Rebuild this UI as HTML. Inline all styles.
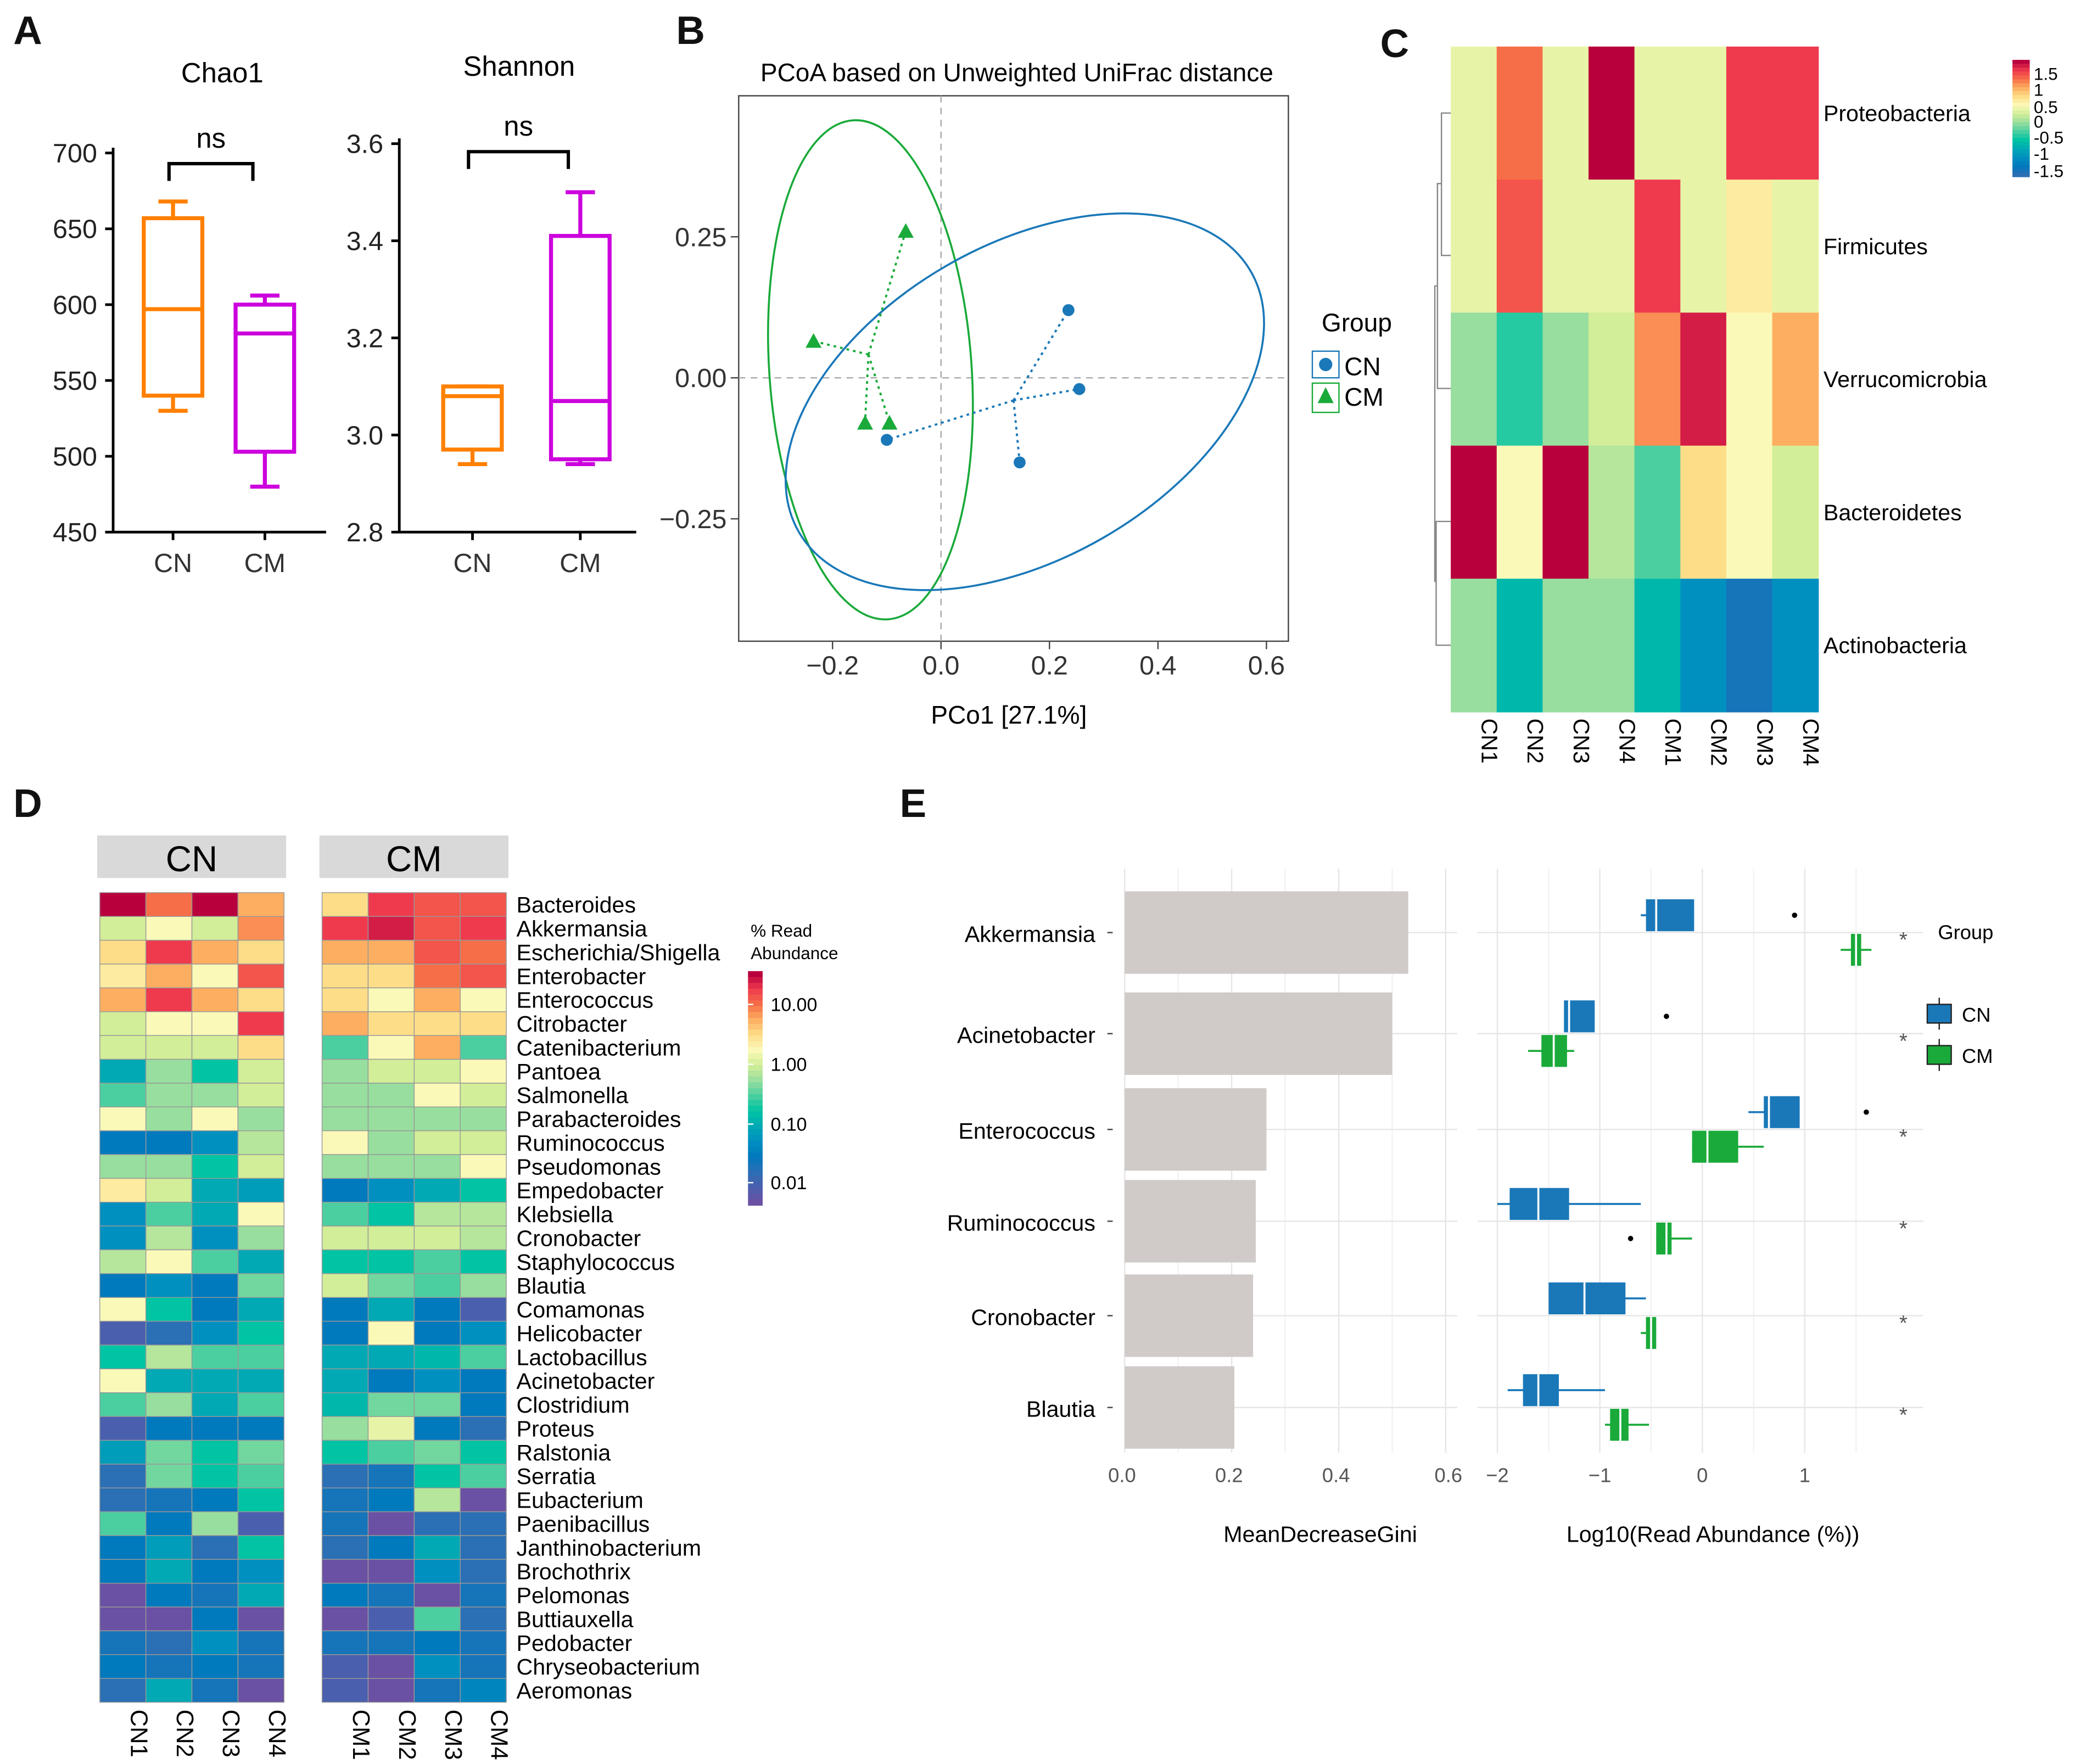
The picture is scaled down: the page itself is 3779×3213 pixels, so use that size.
<!DOCTYPE html>
<html><head><meta charset="utf-8"><style>
html,body{margin:0;padding:0;background:#fff}
svg{display:block;font-family:"Liberation Sans",Arial,sans-serif}
</style></head><body>
<svg id="fig" width="3779" height="3213" viewBox="0 0 1559 1326" preserveAspectRatio="none" xmlns="http://www.w3.org/2000/svg">
<rect width="1559" height="1326" fill="#fff"/>
<g font-weight="bold" font-size="30" fill="#111">
<text x="10" y="33">A</text>
<text x="508" y="33">B</text>
<text x="1037" y="43">C</text>
<text x="10" y="614">D</text>
<text x="676" y="614">E</text>
</g>
<g id="A"></g>
<g id="B"></g>
<g id="C"></g>
<g id="D"></g>
<g id="E"></g>
</svg>
<script>
// ===== data =====
const chaoGroups=["CN","CM"];
const chaoStats=[[530,540,597,657,668],[480,503,581,600,606]];
const shannonStats=[[2.94,2.97,3.08,3.10,3.10],[2.94,2.95,3.07,3.41,3.50]];
const chaoTicks=[450,500,550,600,650,700];
const shannonTicks=[2.8,3.0,3.2,3.4,3.6];
const pcoaCN=[[-0.10,-0.11],[0.145,-0.15],[0.235,0.12],[0.255,-0.02]];
const pcoaCM=[[-0.235,0.065],[-0.14,-0.08],[-0.095,-0.08],[-0.065,0.26]];
const pcoaXTicks=[-0.2,0.0,0.2,0.4,0.6];
const pcoaYTicks=[0.25,0.00,-0.25];
const phylaNames=["Proteobacteria","Firmicutes","Verrucomicrobia","Bacteroidetes","Actinobacteria"];
const sampleNames=["CN1","CN2","CN3","CN4","CM1","CM2","CM3","CM4"];
const phylaValues=[
[9.5,13,9.5,15,9.5,9.5,14,14],
[9.5,13.5,9.5,9.5,14,9.5,10.5,9.5],
[8,6.5,8,9,12.5,14.5,10,12],
[15,10,15,8.5,7,11,10,9],
[8,5.5,8,8,5.5,4,2.5,4]];
const genusNames=["Bacteroides","Akkermansia","Escherichia/Shigella","Enterobacter","Enterococcus","Citrobacter","Catenibacterium","Pantoea","Salmonella","Parabacteroides","Ruminococcus","Pseudomonas","Empedobacter","Klebsiella","Cronobacter","Staphylococcus","Blautia","Comamonas","Helicobacter","Lactobacillus","Acinetobacter","Clostridium","Proteus","Ralstonia","Serratia","Eubacterium","Paenibacillus","Janthinobacterium","Brochothrix","Pelomonas","Buttiauxella","Pedobacter","Chryseobacterium","Aeromonas"];
const genusValues=[
[15,13,15,12,11,14,13.5,13.5],[9,10,9,12.5,14,14.5,13.5,14],[11,14,12,11,12,12,13.5,13],[10.5,12,10,13.5,11,11,13,13.5],
[12,14,12,11,11,10,12,10],[9,10,10,14,12,11,11,11],[9,9,9,11,7,10,12,7],[5,8,6,9,8,9,9,10],
[7,8,8,9,8,8,10,9],[10,8,10,8,8,8,8,8],[3,3,4,8.5,10,8,9,9],[8,8,6,9,8,8,8,10],
[10.5,9,5,4.5,3,4,5,6],[4,7,5,10,7,6,8.5,8.5],[4,8.5,4,8,9,9,9,8.5],[8.5,10,7,5,6,6,7,6],
[3,4,3,7.5,9,7.5,7,8],[10,6,3,5,3,5,3,1],[1,2,4,6,3,10,3,4],[6,8.5,7,7,5,5,5.5,7],
[10,5,5,5,5,3,4,3],[7,8,5,7,5.5,7.5,7.5,3],[1,3,3,3,8,9.5,3,2],[4.5,7.5,6,7.5,6,7,7.5,6],
[2,7.5,6,7,2,2.5,6,7],[2,2.5,3,6,2.5,3,8.5,0],[7,3,8,1,2.5,0,2,2],[3,4.5,2,6,2,3,5,2],
[3,5,3,4,0,0,4,2],[0,3,2.5,5,3,2.5,0,2.5],[0,0,3,0,0,1,7,2],[2.5,2,4,2.5,2.5,2.5,3,2.5],
[3,2.5,3,2.5,1,0,4,2.5],[2,5,2.5,0,1,0,2.5,3.5]];
const rfGenera=["Akkermansia","Acinetobacter","Enterococcus","Ruminococcus","Cronobacter","Blautia"];
const rfGini=[0.53,0.50,0.265,0.245,0.24,0.205];
const giniTicks=[0.0,0.2,0.4,0.6];
const abTicks=[-2,-1,0,1];
// [whiskerLo,q1,median,q3,whiskerHi,outlier]
const abCN=[[-0.6,-0.55,-0.45,-0.08,-0.08,0.9],[-1.35,-1.35,-1.3,-1.05,-1.05,-0.35],[0.45,0.6,0.65,0.95,0.95,1.6],[-2.0,-1.88,-1.6,-1.3,-0.6,null],[-1.5,-1.5,-1.15,-0.75,-0.55,null],[-1.9,-1.75,-1.6,-1.4,-0.95,null]];
const abCM=[[1.35,1.45,1.5,1.55,1.65,null],[-1.7,-1.57,-1.45,-1.32,-1.25,null],[-0.1,-0.1,0.05,0.35,0.6,null],[-0.45,-0.45,-0.35,-0.3,-0.1,-0.7],[-0.6,-0.55,-0.5,-0.45,-0.45,null],[-0.95,-0.9,-0.8,-0.72,-0.52,null]];

// ===== helpers =====
const NS="http://www.w3.org/2000/svg";
function mk(parent,tag,attrs,text){const e=document.createElementNS(NS,tag);for(const k in attrs)e.setAttribute(k,attrs[k]);if(text!==undefined)e.textContent=text;parent.appendChild(e);return e;}
const pal=["#6a51a3","#4a5fae","#2b6fb4","#0079bd","#0090c0","#00a9b4","#00c4a3","#4ccfa0","#98de9e","#d2ee98","#fbf9b8","#fedd88","#fdae61","#f66e47","#ef3a4e","#b8003d"];
function hex(c){return [parseInt(c.slice(1,3),16),parseInt(c.slice(3,5),16),parseInt(c.slice(5,7),16)];}
function col(v){v=Math.max(0,Math.min(15,v));const i=Math.min(14,Math.floor(v)),f=v-i;const a=hex(pal[i]),b=hex(pal[i+1]);return "rgb("+a.map((x,j)=>Math.round(x+(b[j]-x)*f)).join(",")+")";}

// ===== Panel A =====
const A=document.getElementById('A');
function boxPanel(g,name,stats,ticks,x0,yTop,yBot,vmin,vmax,xs,title,tx,ty,nsY,axRight,dec){
  const y=v=>yBot-(v-vmin)/(vmax-vmin)*(yBot-yTop);
  let e=mk(g,'line',{x1:x0,y1:yTop-4,x2:x0,y2:yBot,stroke:'#000','stroke-width':2});
  
  e=mk(g,'line',{x1:x0,y1:yBot,x2:axRight,y2:yBot,stroke:'#000','stroke-width':2});
  
  ticks.forEach(t=>{mk(g,'line',{x1:x0-6,y1:y(t),x2:x0,y2:y(t),stroke:'#000','stroke-width':2});
    e=mk(g,'text',{x:x0-12,y:y(t)+7,'text-anchor':'end','font-size':20,fill:'#222'},t.toFixed(dec));
    });
  const colors=['#ff8000','#cc00dd'];
  stats.forEach((s,i)=>{const cx=xs[i],w=44;
    const bg=mk(g,'g',{stroke:colors[i],'stroke-width':3,fill:'none'});
    
    mk(bg,'line',{x1:cx,y1:y(s[0]),x2:cx,y2:y(s[1])});mk(bg,'line',{x1:cx,y1:y(s[3]),x2:cx,y2:y(s[4])});
    mk(bg,'line',{x1:cx-11,y1:y(s[0]),x2:cx+11,y2:y(s[0])});mk(bg,'line',{x1:cx-11,y1:y(s[4]),x2:cx+11,y2:y(s[4])});
    mk(bg,'rect',{x:cx-w/2,y:y(s[3]),width:w,height:y(s[1])-y(s[3])});
    mk(bg,'line',{x1:cx-w/2,y1:y(s[2]),x2:cx+w/2,y2:y(s[2])});
    mk(g,'line',{x1:cx,y1:yBot,x2:cx,y2:yBot+6,stroke:'#000','stroke-width':2});
    e=mk(g,'text',{x:cx,y:yBot+30,'text-anchor':'middle','font-size':20,fill:'#333'},chaoGroups[i]);
    });
  e=mk(g,'text',{x:tx,y:ty,'text-anchor':'middle','font-size':21},title);
  
  e=mk(g,'path',{d:`M${xs[0]-3},${nsY+13}V${nsY}H${xs[1]-9}V${nsY+13}`,stroke:'#000','stroke-width':2.5,fill:'none'});
  
  e=mk(g,'text',{x:(xs[0]+xs[1])/2-6,y:nsY-12,'text-anchor':'middle','font-size':21},'ns');
  
}
boxPanel(A,'chao1',chaoStats,chaoTicks,85,115,400,450,700,[130,199],'Chao1',167,62,123,245,0);
boxPanel(A,'shannon',shannonStats,shannonTicks,300,108,400,2.8,3.6,[355,436],'Shannon',390,57,114,478,1);

// ===== Panel B =====
const B=document.getElementById('B');
const px=v=>707+v*407.5, py=v=>284-v*424;
let e=mk(B,'rect',{x:555,y:72,width:413,height:410,fill:'none',stroke:'#444','stroke-width':1});

mk(B,'line',{x1:px(0),y1:72,x2:px(0),y2:482,stroke:'#aaa','stroke-dasharray':'5,4'});
mk(B,'line',{x1:555,y1:py(0),x2:968,y2:py(0),stroke:'#aaa','stroke-dasharray':'5,4'});
pcoaXTicks.forEach(t=>{mk(B,'line',{x1:px(t),y1:482,x2:px(t),y2:488,stroke:'#444'});
  e=mk(B,'text',{x:px(t),y:507,'text-anchor':'middle','font-size':20,fill:'#333'},t.toFixed(1).replace('-','\u2212'));
  });
pcoaYTicks.forEach(t=>{mk(B,'line',{x1:549,y1:py(t),x2:555,y2:py(t),stroke:'#444'});
  e=mk(B,'text',{x:546,y:py(t)+7,'text-anchor':'end','font-size':20,fill:'#333'},t.toFixed(2).replace('-','\u2212'));
  });
e=mk(B,'ellipse',{cx:654,cy:278,rx:76,ry:188,transform:'rotate(-4 654 278)',fill:'none',stroke:'#1aaa3a','stroke-width':1.5});

e=mk(B,'ellipse',{cx:770,cy:302,rx:196,ry:118,transform:'rotate(-30 770 302)',fill:'none',stroke:'#1a78b8','stroke-width':1.5});

function cent(pts){return [pts.reduce((a,p)=>a+p[0],0)/pts.length,pts.reduce((a,p)=>a+p[1],0)/pts.length];}
[[pcoaCN,'#1a78b8','cn'],[pcoaCM,'#1aaa3a','cm']].forEach(([pts,c,n])=>{const ce=cent(pts);
  pts.forEach(p=>{e=mk(B,'line',{x1:px(ce[0]),y1:py(ce[1]),x2:px(p[0]),y2:py(p[1]),stroke:c,'stroke-width':1.6,'stroke-dasharray':'2,3'});
    
    if(n==='cn'){e=mk(B,'circle',{cx:px(p[0]),cy:py(p[1]),r:4.5,fill:c});}
    else{const X=px(p[0]),Y=py(p[1]);e=mk(B,'polygon',{points:`${X},${Y-6} ${X-6},${Y+5} ${X+6},${Y+5}`,fill:c});}
    });});
e=mk(B,'text',{x:764,y:61,'text-anchor':'middle','font-size':19},'PCoA based on Unweighted UniFrac distance');

e=mk(B,'text',{x:758,y:544,'text-anchor':'middle','font-size':19},'PCo1 [27.1%]');

e=mk(B,'text',{x:993,y:249,'font-size':19},'Group');
e=mk(B,'g',{});
mk(e,'rect',{x:986,y:264,width:20,height:20,fill:'none',stroke:'#1a78b8'});mk(e,'circle',{cx:996,cy:274,r:5,fill:'#1a78b8'});
mk(e,'text',{x:1010,y:282,'font-size':19},'CN');
e=mk(B,'g',{});
mk(e,'rect',{x:986,y:288,width:20,height:22,fill:'none',stroke:'#1aaa3a'});mk(e,'polygon',{points:'996,291 990,303 1002,303',fill:'#1aaa3a'});
mk(e,'text',{x:1010,y:305,'font-size':19},'CM');

// ===== Panel C =====
const C=document.getElementById('C');
const cx0=1090,cy0=35,cw=34.5,ch=100;
phylaValues.forEach((row,r)=>row.forEach((v,c)=>{e=mk(C,'rect',{x:cx0+c*cw,y:cy0+r*ch,width:cw+0.5,height:ch+0.5,fill:col(v)});
  }));
phylaNames.forEach((n,r)=>{e=mk(C,'text',{x:1370,y:cy0+r*ch+56,'font-size':17},n);
  });
sampleNames.forEach((n,c)=>{const X=cx0+c*cw+cw/2+6;e=mk(C,'text',{x:X,y:540,'font-size':17,transform:`rotate(90 ${X} 540)`},n);
  });
e=mk(C,'path',{d:'M1090,85H1083V192H1090M1083,138H1080V292H1090M1080,215H1078V437H1079V392H1090M1079,437V485H1090M1078,437H1079',fill:'none',stroke:'#888','stroke-width':1});

for(let i=0;i<30;i++){mk(C,'rect',{x:1512,y:45+i*2.93,width:13,height:3.2,fill:col(15-i/29*13)});}
[["1.5",60],["1",72],["0.5",85],["0",96],["-0.5",108],["-1",120],["-1.5",133]].forEach(([t,y])=>{e=mk(C,'text',{x:1528,y:y,'font-size':13},t);
  });

// ===== Panel D =====
const D=document.getElementById('D');
const dy0=671,dh=17.9,dw=34.6;
[[73,'CN',0],[240,'CM',4]].forEach(([x,lab,off])=>{
  e=mk(D,'rect',{x:x,y:628,width:142,height:32,fill:'#d9d9d9'});
  e=mk(D,'text',{x:x+71,y:655,'text-anchor':'middle','font-size':27},lab);
  genusValues.forEach((row,r)=>{for(let c=0;c<4;c++){e=mk(D,'rect',{x:x+2+c*dw,y:dy0+r*dh,width:dw,height:dh,fill:col(row[off+c]),stroke:'#999','stroke-width':0.6});
    }});
  for(let c=0;c<4;c++){const X=x+2+c*dw+dw/2+6;e=mk(D,'text',{x:X,y:1285,'font-size':18,transform:`rotate(90 ${X} 1285)`},sampleNames[off+c]);
    }
});
genusNames.forEach((n,r)=>{e=mk(D,'text',{x:388,y:dy0+r*dh+15,'font-size':17},n);});
e=mk(D,'text',{x:564,y:704,'font-size':13},'% Read');
mk(D,'text',{x:564,y:721,'font-size':13},'Abundance');
for(let i=0;i<40;i++){mk(D,'rect',{x:562,y:730+i*4.4,width:11,height:4.7,fill:col(15-i/39*15)});}
[["10.00",760],["1.00",805],["0.10",850],["0.01",894]].forEach(([t,y])=>{mk(D,'line',{x1:562,y1:y-5,x2:566,y2:y-5,stroke:'#fff'});
  e=mk(D,'text',{x:579,y:y,'font-size':14},t);});

// ===== Panel E =====
const E=document.getElementById('E');
const gx=v=>845+v*402, ax=v=>1279+v*77;
const rowY=[701,777,849,918,989,1058];
[0.1,0.3,0.5].forEach(t=>mk(E,'line',{x1:gx(t),y1:653,x2:gx(t),y2:1092,stroke:'#f2f2f2'}));
giniTicks.forEach(t=>mk(E,'line',{x1:gx(t),y1:653,x2:gx(t),y2:1092,stroke:'#e6e6e6'}));
[-1.5,-0.5,0.5,1.5].forEach(t=>mk(E,'line',{x1:ax(t),y1:653,x2:ax(t),y2:1092,stroke:'#f2f2f2'}));
abTicks.forEach(t=>mk(E,'line',{x1:ax(t),y1:653,x2:ax(t),y2:1092,stroke:'#e6e6e6'}));
rowY.forEach(y=>{mk(E,'line',{x1:845,y1:y,x2:1095,y2:y,stroke:'#e6e6e6'});mk(E,'line',{x1:1110,y1:y,x2:1445,y2:y,stroke:'#e6e6e6'});});
rfGenera.forEach((n,i)=>{const y=rowY[i];
  e=mk(E,'rect',{x:gx(0),y:y-31,width:gx(rfGini[i])-gx(0),height:62,fill:'#d0cbc9'});
  e=mk(E,'text',{x:823,y:y+7,'text-anchor':'end','font-size':17},n);
  mk(E,'line',{x1:832,y1:y,x2:836,y2:y,stroke:'#444'});
  e=mk(E,'text',{x:1430,y:y+11,'text-anchor':'middle','font-size':16,fill:'#555'},'*');
  [[abCN[i],y-13,'#1a78b8','cn'],[abCM[i],y+13,'#1aaa3a','cm']].forEach(([s,yy,c,g])=>{
    const bg=mk(E,'g',{});
    mk(bg,'line',{x1:ax(s[0]),y1:yy,x2:ax(s[4]),y2:yy,stroke:c,'stroke-width':1.5});
    mk(bg,'rect',{x:ax(s[1]),y:yy-12,width:ax(s[3])-ax(s[1]),height:24,fill:c});
    mk(bg,'line',{x1:ax(s[2]),y1:yy-12,x2:ax(s[2]),y2:yy+12,stroke:'#fff','stroke-width':1.5});
    if(s[5]!==null){e=mk(E,'circle',{cx:ax(s[5]),cy:yy,r:2,fill:'#000'});}
  });
});
giniTicks.forEach(t=>{e=mk(E,'text',{x:gx(t)-(t===0.6?-2:2),y:1114,'text-anchor':'middle','font-size':15,fill:'#555'},t.toFixed(1));
  });
abTicks.forEach(t=>{e=mk(E,'text',{x:ax(t),y:1114,'text-anchor':'middle','font-size':15,fill:'#555'},String(t).replace('-','\u2212'));
  });
e=mk(E,'text',{x:992,y:1159,'text-anchor':'middle','font-size':17},'MeanDecreaseGini');
e=mk(E,'text',{x:1287,y:1159,'text-anchor':'middle','font-size':17},'Log10(Read Abundance (%))');
e=mk(E,'text',{x:1456,y:706,'font-size':15},'Group');
[['CN','#1a78b8',762],['CM','#1aaa3a',793]].forEach(([n,c,y])=>{const g=mk(E,'g',{});
  
  mk(g,'line',{x1:1457,y1:y-12,x2:1457,y2:y+12,stroke:'#222'});
  mk(g,'rect',{x:1448,y:y-7,width:18,height:14,fill:c,stroke:'#222'});
  mk(g,'text',{x:1474,y:y+6,'font-size':15},n);});
</script>
</body></html>
